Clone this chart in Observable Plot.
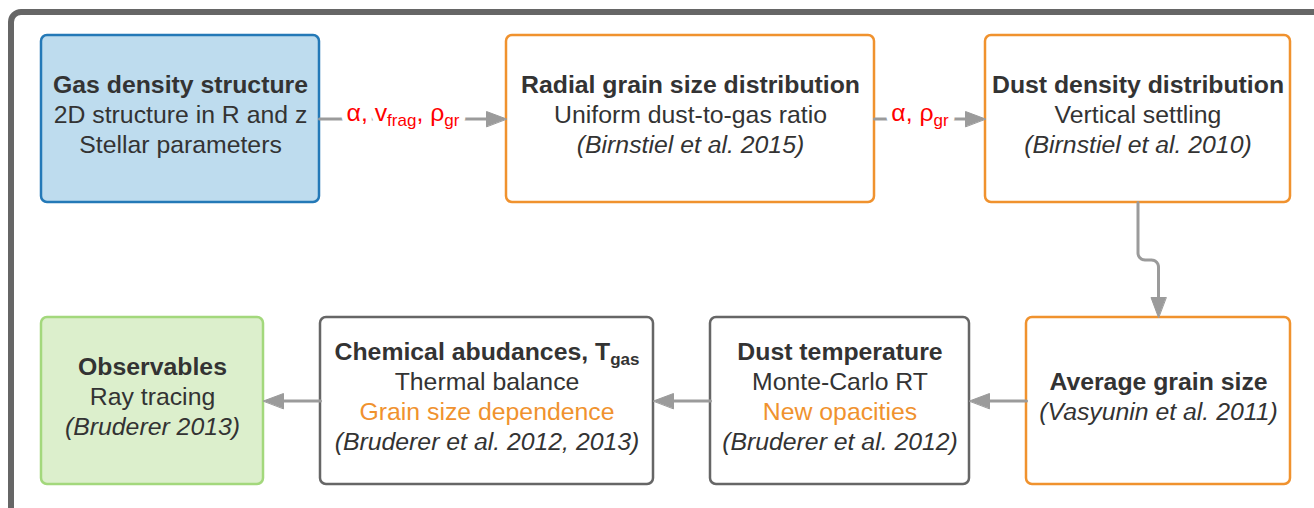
<!DOCTYPE html>
<html>
<head>
<meta charset="utf-8">
<script src="https://cdn.jsdelivr.net/npm/d3@7"></script>
<script src="https://cdn.jsdelivr.net/npm/@observablehq/plot@0.6"></script>
<style>
  html, body { margin: 0; padding: 0; background: white; overflow: hidden; }
</style>
</head>
<body>
<div id="chart"></div>
<script>
// ---------- data ----------
const nodeTitles = [
  "Gas density structure",
  "Radial grain size distribution",
  "Dust density distribution",
  "Average grain size",
  "Dust temperature",
  "Chemical abudances, T_{gas}",
  "Observables"
];
const nodeKinds = ["input", "dust", "dust", "dust", "model", "model", "output"];
const nodeDetails = [
  ["2D structure in R and z", "Stellar parameters"],
  ["Uniform dust-to-gas ratio"],
  ["Vertical settling"],
  [],
  ["Monte-Carlo RT"],
  ["Thermal balance"],
  ["Ray tracing"]
];
const nodeHighlights = [[], [], [], [], ["New opacities"], ["Grain size dependence"], []];
const nodeRefs = [
  "",
  "(Birnstiel et al. 2015)",
  "(Birnstiel et al. 2010)",
  "(Vasyunin et al. 2011)",
  "(Bruderer et al. 2012)",
  "(Bruderer et al. 2012, 2013)",
  "(Bruderer 2013)"
];
const edgeSources = [0, 1, 2, 3, 4, 5];
const edgeTargets = [1, 2, 3, 4, 5, 6];
const edgeLabels = ["α, v_{frag}, ρ_{gr}", "α, ρ_{gr}", "", "", "", ""];

// ---------- layout (pixel geometry of the diagram) ----------
const W = 1314, H = 508;
const boxX = [[41, 319], [506, 874], [985, 1290], [1026, 1290], [710, 969], [320, 653], [41, 263]];
const boxRow = [0, 0, 0, 1, 1, 1, 1];
const rowY = [[35, 202], [317, 484]];
const fontSize = 24.8, subSize = 17, subShift = 5.5;
const lineGap = 30, textShift = -4;
const headLen = 20, headHalf = 7.5, cornerR = 7;
const palette = {
  input:  {fill: "#bedcee", stroke: "#2479b7"},
  dust:   {fill: "#ffffff", stroke: "#f0922e"},
  model:  {fill: "#ffffff", stroke: "#666666"},
  output: {fill: "#dcefcc", stroke: "#a3d87c"}
};
const textColor = "#333333", hiColor = "#f0922e", edgeColor = "#9b9b9b", labelColor = "#ff0000";
const font = "'Liberation Sans', Arial, Helvetica, sans-serif";

// ---------- derived tables ----------
const boxes = nodeTitles.map((t, i) => ({
  i, title: t, kind: nodeKinds[i],
  x1: boxX[i][0], x2: boxX[i][1],
  y1: rowY[boxRow[i]][0], y2: rowY[boxRow[i]][1],
  cx: (boxX[i][0] + boxX[i][1]) / 2,
  cy: (rowY[boxRow[i]][0] + rowY[boxRow[i]][1]) / 2
}));

const textLines = [];
boxes.forEach((b, i) => {
  const lines = [{text: nodeTitles[i], role: "title"}]
    .concat(nodeDetails[i].map(t => ({text: t, role: "body"})))
    .concat(nodeHighlights[i].map(t => ({text: t, role: "hi"})))
    .concat(nodeRefs[i] ? [{text: nodeRefs[i], role: "ref"}] : []);
  const n = lines.length;
  lines.forEach((l, k) => textLines.push({
    ...l, x: b.cx, y: b.cy + textShift + (k - (n - 1) / 2) * lineGap
  }));
});

const edgePts = [], headPts = [], labelPts = [];
edgeSources.forEach((s, e) => {
  const a = boxes[s], b = boxes[edgeTargets[e]];
  if (boxRow[s] === boxRow[edgeTargets[e]]) {
    const y = a.cy;
    const dir = b.cx > a.cx ? 1 : -1;
    const sx = dir > 0 ? a.x2 : a.x1;
    const tx = dir > 0 ? b.x1 : b.x2;
    const bx = tx - dir * headLen;
    edgePts.push({edge: e, x: sx, y}, {edge: e, x: bx, y});
    headPts.push({edge: e, x: tx, y}, {edge: e, x: bx, y: y - headHalf}, {edge: e, x: bx, y: y + headHalf});
    if (edgeLabels[e]) labelPts.push({edge: e, text: edgeLabels[e], x: (sx + bx) / 2, y});
  } else {
    // vertical connector with a rounded jog
    const sx = a.cx, sy = a.y2, tx = b.cx, ty = b.y1, m = (sy + ty) / 2;
    const by = ty - headLen, r = cornerR, sgn = tx > sx ? 1 : -1;
    const pts = [[sx, sy], [sx, m - r]];
    for (let k = 1; k <= 8; k++) {
      const t = (k / 8) * Math.PI / 2;
      pts.push([sx + sgn * r * (1 - Math.cos(t)), m - r + r * Math.sin(t)]);
    }
    pts.push([tx - sgn * r, m]);
    for (let k = 1; k <= 8; k++) {
      const t = (k / 8) * Math.PI / 2;
      pts.push([tx - sgn * r + sgn * r * Math.sin(t), m + r * (1 - Math.cos(t))]);
    }
    pts.push([tx, by]);
    pts.forEach(([x, y]) => edgePts.push({edge: e, x, y}));
    headPts.push({edge: e, x: tx, y: ty}, {edge: e, x: tx - headHalf, y: by}, {edge: e, x: tx + headHalf, y: by});
  }
});

const frame = [{x1: 11, y1: 12, x2: W + 40, y2: H + 40}];

// ---------- plot ----------
const textBase = {x: "x", y: "y", text: "text", fontSize, fontFamily: font};
const chart = Plot.plot({
  width: W, height: H,
  margin: 0, marginTop: 0, marginRight: 0, marginBottom: 0, marginLeft: 0,
  x: {domain: [0, W], range: [0, W], axis: null},
  y: {domain: [0, H], range: [0, H], axis: null},
  style: {background: "white", fontFamily: font},
  marks: [
    Plot.rect(frame, {x1: "x1", x2: "x2", y1: "y1", y2: "y2", fill: "none", stroke: "#666666", strokeWidth: 6, rx: 10}),
    ...boxes.map(b => Plot.rect([b], {
      x1: "x1", x2: "x2", y1: "y1", y2: "y2", rx: 6,
      fill: palette[b.kind].fill, stroke: palette[b.kind].stroke, strokeWidth: 2.5
    })),
    Plot.line(edgePts, {x: "x", y: "y", z: "edge", stroke: edgeColor, strokeWidth: 3, curve: "linear", strokeLinejoin: "round"}),
    Plot.line(headPts, {x: "x", y: "y", z: "edge", fill: edgeColor, stroke: edgeColor, strokeWidth: 1, curve: "linear-closed"}),
    // label background halo, then the label itself
    Plot.text(labelPts, {...textBase, fill: "white", stroke: "white", strokeWidth: 12, dy: -6}),
    Plot.text(labelPts, {...textBase, fill: labelColor, dy: -6}),
    Plot.text(textLines.filter(d => d.role === "title"), {...textBase, fill: textColor, fontWeight: "bold"}),
    Plot.text(textLines.filter(d => d.role === "body"), {...textBase, fill: textColor}),
    Plot.text(textLines.filter(d => d.role === "hi"), {...textBase, fill: hiColor}),
    Plot.text(textLines.filter(d => d.role === "ref"), {...textBase, fill: textColor, fontStyle: "italic"})
  ]
});

// rich text: turn _{...} into subscripts
d3.select(chart).selectAll("text, tspan").each(function () {
  if (this.childElementCount > 0) return;
  const s = this.textContent;
  if (!s.includes("_{")) return;
  const parts = s.split(/(_\{[^}]*\})/).filter(p => p.length);
  this.textContent = "";
  let down = false;
  for (const p of parts) {
    const t = document.createElementNS("http://www.w3.org/2000/svg", "tspan");
    if (p.startsWith("_{")) {
      t.textContent = p.slice(2, -1);
      t.setAttribute("font-size", subSize);
      t.setAttribute("dy", subShift);
      down = true;
    } else {
      t.textContent = p;
      if (down) { t.setAttribute("dy", -subShift); down = false; }
    }
    this.appendChild(t);
  }
});

document.getElementById("chart").appendChild(chart);
</script>
</body>
</html>
